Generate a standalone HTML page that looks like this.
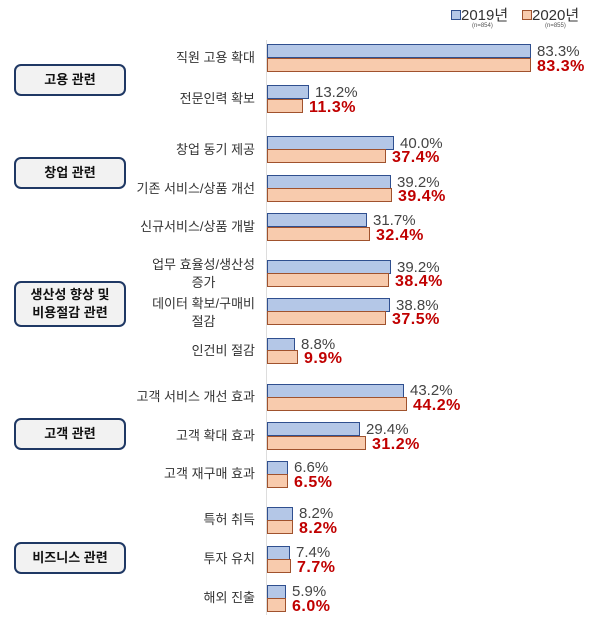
<!DOCTYPE html><html><head><meta charset="utf-8"><style>
body{margin:0;width:600px;height:627px;background:#fff;position:relative;overflow:hidden;font-family:"Liberation Sans","Noto Sans CJK KR",sans-serif}
.a{position:absolute}
.b1{position:absolute;left:267px;background:#b4c7e7;border:1px solid #2f4f8f;box-sizing:border-box;height:14px}
.b2{position:absolute;left:267px;height:14px;background:#f8cbad;border:1px solid #a0522d;box-sizing:border-box}
.v1{position:absolute;font-size:15px;color:#444;line-height:14px}
.v2{position:absolute;font-size:16px;color:#c00000;font-weight:bold;line-height:15px;letter-spacing:0.5px}
.c{position:absolute;right:345px;font-size:13px;color:#333;text-align:center;line-height:18px}
.box{position:absolute;left:14px;width:112px;border:2px solid #1f3864;border-radius:7px;background:#f2f2f2;box-sizing:border-box;display:flex;align-items:center;justify-content:center;text-align:center;font-weight:bold;font-size:13px;color:#111;line-height:18px}
</style></head><body>
<div class="a" style="left:266px;top:40px;width:1px;height:575px;background:#ddd"></div>
<div class="a" style="left:451px;top:4px;font-size:15px;color:#333"><span style="display:inline-block;width:8px;height:8px;border:1px solid #2f4f8f;background:#b4c7e7"></span>2019년</div>
<div class="a" style="left:472px;top:23px;font-size:6px;color:#555">(n=854)</div>
<div class="a" style="left:522px;top:4px;font-size:15px;color:#333"><span style="display:inline-block;width:8px;height:8px;border:1px solid #a0522d;background:#f8cbad"></span>2020년</div>
<div class="a" style="left:545px;top:23px;font-size:6px;color:#555">(n=855)</div>

<div class="box" style="top:64px;height:32px">고용 관련</div>
<div class="box" style="top:157px;height:32px">창업 관련</div>
<div class="box" style="top:281px;height:46px">생산성 향상 및<br>비용절감 관련</div>
<div class="box" style="top:418px;height:32px">고객 관련</div>
<div class="box" style="top:542px;height:32px">비즈니스 관련</div>

<div class="c" style="top:49px">직원 고용 확대</div>
<div class="b1" style="top:44px;width:264px"></div><div class="b2" style="top:58px;width:264px"></div>
<div class="v1" style="left:537px;top:45px">83.3%</div><div class="v2" style="left:537px;top:59px">83.3%</div>

<div class="c" style="top:90px">전문인력 확보</div>
<div class="b1" style="top:85px;width:42px"></div><div class="b2" style="top:99px;width:36px"></div>
<div class="v1" style="left:315px;top:86px">13.2%</div><div class="v2" style="left:309px;top:100px">11.3%</div>

<div class="c" style="top:141px">창업 동기 제공</div>
<div class="b1" style="top:136px;width:127px"></div><div class="b2" style="top:149px;width:119px"></div>
<div class="v1" style="left:400px;top:137px">40.0%</div><div class="v2" style="left:392px;top:150px">37.4%</div>

<div class="c" style="top:180px">기존 서비스/상품 개선</div>
<div class="b1" style="top:175px;width:124px"></div><div class="b2" style="top:188px;width:125px"></div>
<div class="v1" style="left:397px;top:176px">39.2%</div><div class="v2" style="left:398px;top:189px">39.4%</div>

<div class="c" style="top:218px">신규서비스/상품 개발</div>
<div class="b1" style="top:213px;width:100px"></div><div class="b2" style="top:227px;width:103px"></div>
<div class="v1" style="left:373px;top:214px">31.7%</div><div class="v2" style="left:376px;top:228px">32.4%</div>

<div class="c" style="top:256px">업무 효율성/생산성<br>증가</div>
<div class="b1" style="top:260px;width:124px"></div><div class="b2" style="top:273px;width:122px"></div>
<div class="v1" style="left:397px;top:261px">39.2%</div><div class="v2" style="left:395px;top:274px">38.4%</div>

<div class="c" style="top:295px">데이터 확보/구매비<br>절감</div>
<div class="b1" style="top:298px;width:123px"></div><div class="b2" style="top:311px;width:119px"></div>
<div class="v1" style="left:396px;top:299px">38.8%</div><div class="v2" style="left:392px;top:312px">37.5%</div>

<div class="c" style="top:342px">인건비 절감</div>
<div class="b1" style="top:338px;width:28px"></div><div class="b2" style="top:350px;width:31px"></div>
<div class="v1" style="left:301px;top:338px">8.8%</div><div class="v2" style="left:304px;top:351px">9.9%</div>

<div class="c" style="top:388px">고객 서비스 개선 효과</div>
<div class="b1" style="top:384px;width:137px"></div><div class="b2" style="top:397px;width:140px"></div>
<div class="v1" style="left:410px;top:384px">43.2%</div><div class="v2" style="left:413px;top:398px">44.2%</div>

<div class="c" style="top:427px">고객 확대 효과</div>
<div class="b1" style="top:422px;width:93px"></div><div class="b2" style="top:436px;width:99px"></div>
<div class="v1" style="left:366px;top:423px">29.4%</div><div class="v2" style="left:372px;top:437px">31.2%</div>

<div class="c" style="top:465px">고객 재구매 효과</div>
<div class="b1" style="top:461px;width:21px"></div><div class="b2" style="top:474px;width:21px"></div>
<div class="v1" style="left:294px;top:461px">6.6%</div><div class="v2" style="left:294px;top:475px">6.5%</div>

<div class="c" style="top:511px">특허 취득</div>
<div class="b1" style="top:507px;width:26px"></div><div class="b2" style="top:520px;width:26px"></div>
<div class="v1" style="left:299px;top:507px">8.2%</div><div class="v2" style="left:299px;top:521px">8.2%</div>

<div class="c" style="top:550px">투자 유치</div>
<div class="b1" style="top:546px;width:23px"></div><div class="b2" style="top:559px;width:24px"></div>
<div class="v1" style="left:296px;top:546px">7.4%</div><div class="v2" style="left:297px;top:560px">7.7%</div>

<div class="c" style="top:589px">해외 진출</div>
<div class="b1" style="top:585px;width:19px"></div><div class="b2" style="top:598px;width:19px"></div>
<div class="v1" style="left:292px;top:585px">5.9%</div><div class="v2" style="left:292px;top:599px">6.0%</div>
</body></html>
